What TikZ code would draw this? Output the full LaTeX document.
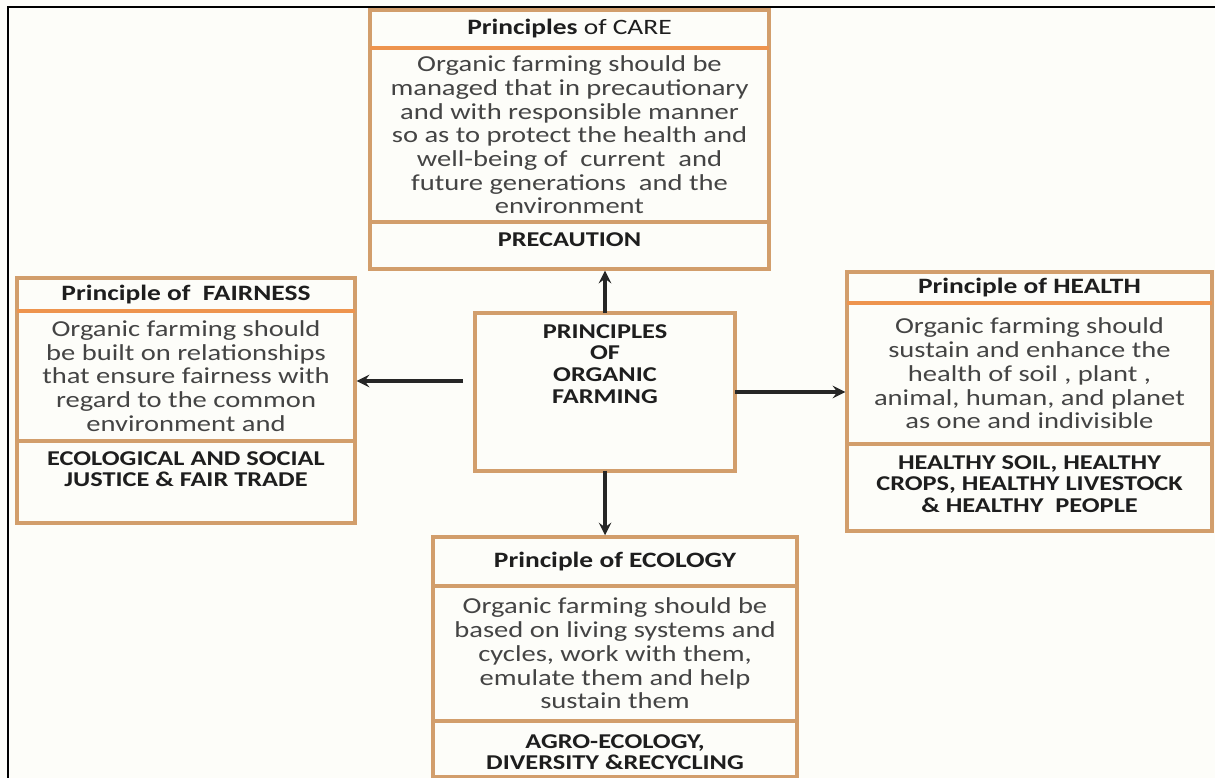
\documentclass[tikz,border=0pt]{standalone}
\usepackage{fontspec}
\setmainfont{Carlito}[FakeStretch=1.25]
\usetikzlibrary{positioning}
\definecolor{paper}{RGB}{253,253,249}
\definecolor{boxline}{RGB}{210,158,108}
\definecolor{headline}{RGB}{238,148,78}
\definecolor{bodyink}{RGB}{68,68,68}
\definecolor{headink}{RGB}{30,30,30}

\begin{document}
\begin{tikzpicture}[x=0.02cm,y=-0.02cm,>=stealth,
    part/.style={draw=boxline,line width=2pt,outer sep=0pt,inner sep=0pt},
    head/.style={part,font=\bfseries\fontsize{12.5}{13}\selectfont,text=headink},
    body/.style={part,align=center,font=\fontsize{13}{13.5}\selectfont,text=bodyink},
    foottext/.style={align=center,inner sep=0pt,font=\bfseries\fontsize{12}{12.4}\selectfont,text=headink},
    divider/.style={draw=headline,line width=2.8pt},
    arrow/.style={->,shorten >=1pt,line width=2.1pt,black!85}]
                        \useasboundingbox (0,0) rectangle (1215,778);
                        \fill[paper] (0,0) rectangle (1215,778);
                        \draw[line width=1.2pt] (8,778) -- (8,7) -- (1215,7);

                        % care
                        \node[head, minimum width=7.98cm, minimum height=0.76cm, anchor=north] (carehead) at (569.5,10) {Principles \mdseries of CARE};
                        \node[body, minimum width=7.98cm, minimum height=3.48cm, below=0pt of carehead] (carebody) {Organic farming should be\\managed that in precautionary\\and with responsible manner\\so as to protect the health and\\well-being of \ current \ and\\future generations \ and the\\environment};
                        \node[part, minimum width=7.98cm, minimum height=0.94cm, below=0pt of carebody] (carefoot) {};
                        \node[foottext, below=0.2cm of carefoot.north] (careaim) {PRECAUTION};

                        % fairness
                        \node[head, minimum width=6.76cm, minimum height=0.66cm, anchor=north] (fairhead) at (186,278) {Principle of \ FAIRNESS};
                        \node[body, minimum width=6.76cm, minimum height=2.6cm, below=0pt of fairhead] (fairbody) {Organic farming should\\be built on relationships\\that ensure fairness with\\regard to the common\\environment and};
                        \node[part, minimum width=6.76cm, minimum height=1.64cm, below=0pt of fairbody] (fairfoot) {};
                        \node[foottext, below=0.2cm of fairfoot.north] (fairaim) {ECOLOGICAL AND SOCIAL\\JUSTICE \& FAIR TRADE};

                        % health
                        \node[head, minimum width=7.3cm, minimum height=0.62cm, anchor=north] (healthhead) at (1029.5,272) {Principle of HEALTH};
                        \node[body, minimum width=7.3cm, minimum height=2.82cm, below=0pt of healthhead] (healthbody) {Organic farming should\\sustain and enhance the\\health of soil , plant ,\\animal, human, and planet\\as one and indivisible};
                        \node[part, minimum width=7.3cm, minimum height=1.74cm, below=0pt of healthbody] (healthfoot) {};
                        \node[foottext, below=0.22cm of healthfoot.north] (healthaim) {HEALTHY SOIL, HEALTHY\\CROPS, HEALTHY LIVESTOCK\\\& HEALTHY \ PEOPLE};

                        % ecology
                        \node[head, minimum width=7.28cm, minimum height=0.98cm, anchor=north] (ecohead) at (615,537) {Principle of ECOLOGY};
                        \node[body, minimum width=7.28cm, minimum height=2.7cm, below=0pt of ecohead] (ecobody) {Organic farming should be\\based on living systems and\\cycles, work with them,\\emulate them and help\\sustain them};
                        \node[part, minimum width=7.28cm, minimum height=1.12cm, below=0pt of ecobody] (ecofoot) {};
                        \node[foottext, below=0.26cm of ecofoot.north] (ecoaim) {AGRO-ECOLOGY,\\DIVERSITY \&RECYCLING};

                        % centre
                        \node[part, minimum width=5.2cm, minimum height=3.16cm] (centre) at (605,392) {};
                        \node[foottext, below=0.22cm of centre.north] (centretitle) {PRINCIPLES\\OF\\ORGANIC\\FARMING};

                        \draw[divider] (carehead.south west) -- (carehead.south east);
                        \draw[divider] (fairhead.south west) -- (fairhead.south east);
                        \draw[divider] (healthhead.south west) -- (healthhead.south east);

                        \coordinate (leftstart) at ([xshift=-0.24cm,yshift=0.22cm]centre.west);
                        \draw[arrow] (centre.north) -- (centre.north |- carefoot.south);
                        \draw[arrow] (leftstart) -- (leftstart -| fairbody.east);
                        \draw[arrow] (centre.east) -- (centre.east -| healthbody.west);
                        \draw[arrow] (centre.south) -- (centre.south |- ecohead.north);

                    \end{tikzpicture}
\end{document}
